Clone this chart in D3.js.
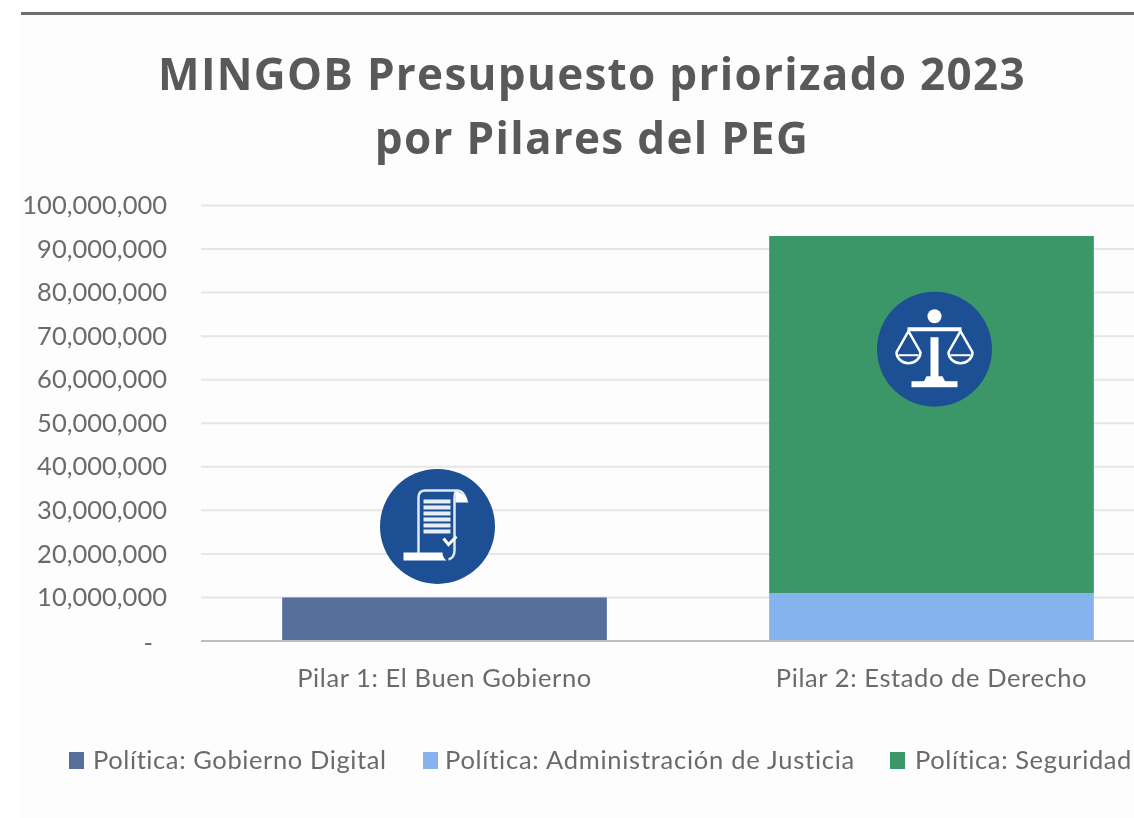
<!DOCTYPE html>
<html>
<head>
<meta charset="utf-8">
<script src="https://cdn.jsdelivr.net/npm/d3@7"></script>
<style>
html, body { margin: 0; padding: 0; background: #fff; overflow: hidden; }
svg { display: block; filter: blur(0.6px); }
.tick text { font-family: "Lato", sans-serif; font-size: 25.5px; fill: #6a6a6a; }
.title { font-family: "Open Sans", sans-serif; font-weight: 700; font-size: 44px; fill: #595959; letter-spacing: 1.3px; }
.legend text { font-family: "Lato", sans-serif; font-size: 25.5px; fill: #6a6a6a; }
</style>
</head>
<body>
<script>

var titleLines = ["MINGOB Presupuesto priorizado 2023", "por Pilares del PEG"];
var pilares = ["Pilar 1: El Buen Gobierno", "Pilar 2: Estado de Derecho"];
var series = ["Política: Gobierno Digital", "Política: Administración de Justicia", "Política: Seguridad"];
var gobiernoDigital = [10000000, 0];
var justicia = [0, 11000000];
var seguridad = [0, 82000000];
var colores = ["#56709b", "#86b3ee", "#3b9767"];
var yTicks = [0, 10000000, 20000000, 30000000, 40000000, 50000000, 60000000, 70000000, 80000000, 90000000, 100000000];
var iconValues = [26300000, 67000000];

var width = 1134, height = 818;
var svg = d3.select("body").append("svg")
    .attr("width", width)
    .attr("height", height);

// light page panel and the rule on top
svg.append("rect")
    .attr("width", width).attr("height", height)
    .attr("fill", "#fff");
svg.append("rect")
    .attr("x", 21).attr("y", 15)
    .attr("width", width - 21).attr("height", height - 15)
    .attr("fill", "#fdfdfd");
svg.append("rect")
    .attr("x", 21).attr("y", 12)
    .attr("width", width - 21).attr("height", 3)
    .attr("fill", "#6e6e6e");

svg.selectAll(".title")
    .data(titleLines)
  .enter().append("text")
    .attr("class", "title")
    .attr("x", 592)
    .attr("y", function(d, i) { return 90 + i * 64; })
    .attr("text-anchor", "middle")
    .text(function(d) { return d; });

var x = d3.scaleBand()
    .domain(pilares)
    .range([201, 1175])
    .paddingInner(1 / 3)
    .paddingOuter(1 / 6);

var y = d3.scaleLinear()
    .domain([0, 100000000])
    .range([641, 205.5]);

// gridlines
svg.append("g")
  .selectAll("line")
    .data(yTicks.slice(1))
  .enter().append("line")
    .attr("x1", 201)
    .attr("x2", width)
    .attr("y1", function(d) { return y(d); })
    .attr("y2", function(d) { return y(d); })
    .attr("stroke", "#e6e6e6")
    .attr("stroke-width", 2);

// stacked bars
var rows = pilares.map(function(p, i) {
  return { pilar: p, a: gobiernoDigital[i], b: justicia[i], c: seguridad[i] };
});
var stack = d3.stack().keys(["a", "b", "c"]);

svg.append("g")
  .selectAll("g")
    .data(stack(rows))
  .enter().append("g")
    .attr("fill", function(d, i) { return colores[i]; })
  .selectAll("rect")
    .data(function(d) { return d; })
  .enter().append("rect")
    .attr("x", function(d) { return x(d.data.pilar); })
    .attr("width", x.bandwidth())
    .attr("y", function(d) { return y(d[1]); })
    .attr("height", function(d) { return y(d[0]) - y(d[1]); });

// y axis
var yAxis = d3.axisLeft(y)
    .tickValues(yTicks)
    .tickSize(0)
    .tickPadding(0)
    .tickFormat(function(d) { return d === 0 ? "-" : d3.format(",")(d); });

var gy = svg.append("g")
    .attr("transform", "translate(167,0)")
    .call(yAxis);
gy.select(".domain").remove();
gy.selectAll("text").attr("dy", "0.32em");
gy.selectAll("text").filter(function(d) { return d === 0; })
    .attr("transform", "translate(-14,2)");

// x axis
var gx = svg.append("g")
    .attr("transform", "translate(0,641)")
    .call(d3.axisBottom(x).tickSize(0).tickPadding(28));
gx.select(".domain").remove();
gx.selectAll("text").attr("dy", "0.71em").style("letter-spacing", "0.6px");
svg.append("line")
    .attr("x1", 201).attr("x2", width)
    .attr("y1", y(0)).attr("y2", y(0))
    .attr("stroke", "#bdbdbd")
    .attr("stroke-width", 2);

// badges
var badgeBlue = "#1c4f94";
var badges = svg.append("g")
  .selectAll("g")
    .data(pilares)
  .enter().append("g")
    .attr("transform", function(d, i) {
      return "translate(" + (x(d) + x.bandwidth() / 2 - 7 + i * 10) + "," + y(iconValues[i]) + ")";
    });
badges.append("circle")
    .attr("r", 57.5)
    .attr("fill", badgeBlue);

// document icon
var doc = d3.select(badges.nodes()[0]);
doc.append("path")
    .attr("d", "M-19,27 V-29 Q-19,-36 -12,-36 H20 Q26,-36 29,-26 M20,-36 Q17,-36 17,-28 V24 Q17,31 11,33")
    .attr("fill", "none").attr("stroke", "#dfe8f3").attr("stroke-width", 2.5);
doc.append("path")
    .attr("d", "M18,-35 Q26,-35 31,-24 H18 Z")
    .attr("fill", "#fff");
[-27, -21, -15, -9, -3, 3].forEach(function(ly) {
  doc.append("rect").attr("x", -14).attr("y", ly).attr("width", 27).attr("height", 4).attr("fill", "#e8eef6");
});
doc.append("path")
    .attr("d", "M-34,26 H5 Q5,31 9,34 H-34 Z")
    .attr("fill", "#fff");
doc.append("path")
    .attr("d", "M6,12 L11,18 L19,10")
    .attr("fill", "none").attr("stroke", "#fff").attr("stroke-width", 3);

// scales icon
var scales = d3.select(badges.nodes()[1]);
scales.append("circle").attr("cx", 0).attr("cy", -33).attr("r", 7).attr("fill", "#fff");
scales.append("rect").attr("x", -4).attr("y", -12).attr("width", 8).attr("height", 44).attr("fill", "#fff");
scales.append("path")
    .attr("d", "M-27,-20 H27")
    .attr("stroke", "#fff").attr("stroke-width", 4);
scales.append("path").attr("d", "M-8,27 H8 L11,33 H-11 Z").attr("fill", "#fff");
scales.append("rect").attr("x", -23).attr("y", 32).attr("width", 46).attr("height", 6).attr("fill", "#fff");
[-26, 26].forEach(function(cx) {
  scales.append("path")
      .attr("d", "M" + cx + ",-18 L" + (cx - 12) + ",3 A12,11 0 1 0 " + (cx + 12) + ",3 Z")
      .attr("fill", "none").attr("stroke", "#fff").attr("stroke-width", 2.5);
  scales.append("path")
      .attr("d", "M" + (cx - 10) + ",6 H" + (cx + 10))
      .attr("stroke", "#fff").attr("stroke-width", 2);
});

// legend
var legendX = d3.scaleOrdinal().domain(series).range([69, 423, 890]);
var legend = svg.append("g").attr("class", "legend")
  .selectAll("g")
    .data(series)
  .enter().append("g")
    .attr("transform", function(d) { return "translate(" + legendX(d) + ",760)"; });
legend.append("rect")
    .attr("y", -8).attr("width", 15).attr("height", 17)
    .attr("fill", function(d, i) { return colores[i]; });
legend.append("text")
    .attr("x", function(d, i) { return i === 1 ? 22 : i === 0 ? 24 : 25; })
    .attr("dy", "0.35em")
    .style("letter-spacing", function(d, i) { return i === 1 ? "0.75px" : "0.6px"; })
    .text(function(d) { return d; });

</script>
</body>
</html>
